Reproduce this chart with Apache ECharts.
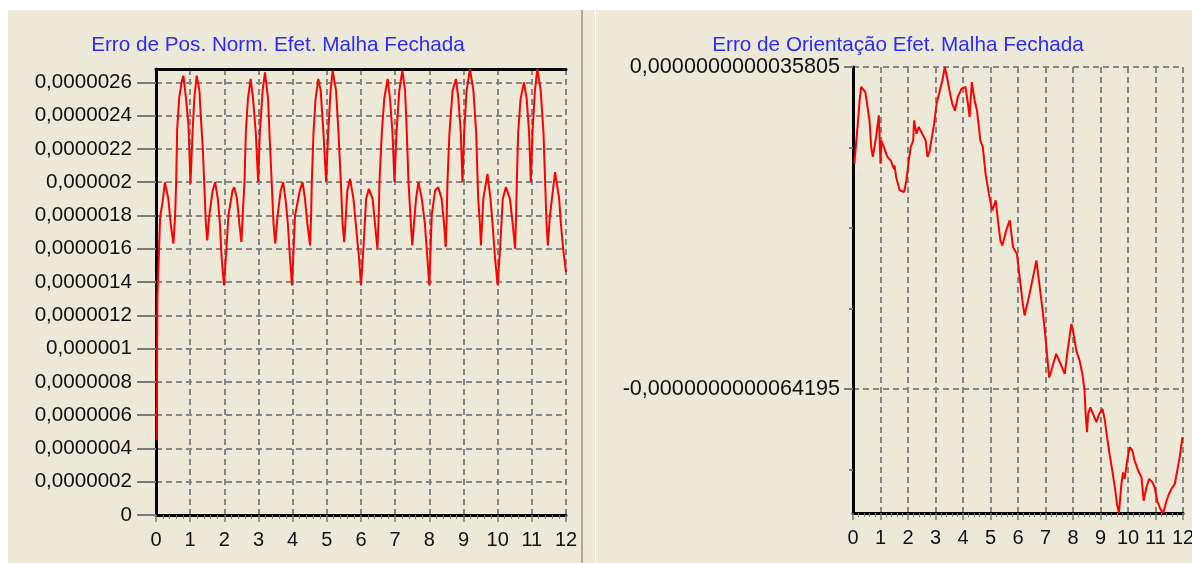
<!DOCTYPE html>
<html>
<head>
<meta charset="utf-8">
<script src="https://cdn.jsdelivr.net/npm/echarts@6/dist/echarts.min.js"></script>
<style>
  html, body { margin: 0; padding: 0; background: #ffffff; overflow: hidden; }
  #frame  { position: absolute; left: 8px; top: 10px; width: 1184px; height: 553px; background: #ECE9D8; }
  #split  { position: absolute; left: 581px; top: 10px; width: 2px; height: 553px; background: #ACA899; }
  #split2 { position: absolute; left: 595px; top: 10px; width: 1px; height: 553px; background: #ffffff; }
  #chart  { position: absolute; left: 0; top: 0; width: 1192px; height: 563px; }
</style>
</head>
<body>
<div id="frame"></div>
<div id="split"></div>
<div id="split2"></div>
<div id="chart"></div>
<script>
// Closed-loop position error (values in units of 1e-6)
const posX = [
  0.02, 0.04, 0.12, 0.20, 0.26, 0.30, 0.36, 0.43, 0.51, 0.56,
  0.59, 0.62, 0.68, 0.75, 0.80, 0.88, 0.95, 1.01, 1.07, 1.12,
  1.19, 1.27, 1.31, 1.37, 1.42, 1.46, 1.50, 1.56, 1.66, 1.73,
  1.81, 1.87, 1.92, 1.99,
  2.06, 2.12, 2.24, 2.29, 2.37, 2.44, 2.50, 2.55, 2.59, 2.63,
  2.69, 2.77, 2.84, 2.92, 2.99, 3.04, 3.12, 3.19, 3.28, 3.33,
  3.38, 3.44, 3.49, 3.56, 3.65, 3.72, 3.80, 3.86, 3.92, 3.98,
  4.07, 4.21, 4.29, 4.36, 4.43, 4.51, 4.54, 4.56, 4.61, 4.67,
  4.75, 4.82, 4.90, 4.98, 5.04, 5.11, 5.17, 5.27, 5.34, 5.41,
  5.46, 5.51, 5.60, 5.68, 5.78, 5.87, 5.94, 6.00,
  6.07, 6.15, 6.23, 6.34, 6.41, 6.48, 6.52, 6.54, 6.61, 6.68,
  6.78, 6.85, 6.92, 6.98, 7.04, 7.12, 7.21, 7.29, 7.34, 7.39,
  7.46, 7.50, 7.61, 7.68, 7.78, 7.87, 7.94, 8.00,
  8.07, 8.17, 8.26, 8.36, 8.43, 8.48, 8.51, 8.53, 8.59, 8.68,
  8.78, 8.85, 8.92, 8.97, 9.02, 9.09, 9.19, 9.29, 9.37, 9.43,
  9.48, 9.51, 9.58, 9.70, 9.79, 9.85, 9.92, 10.00,
  10.07, 10.15, 10.24, 10.36, 10.44, 10.51, 10.54, 10.56, 10.60, 10.67,
  10.77, 10.85, 10.92, 10.97, 11.02, 11.09, 11.16, 11.26, 11.34, 11.39,
  11.43, 11.47, 11.53, 11.68, 11.80, 11.85, 11.92, 12.00
];
const posErr = [
  0.45, 1.30, 1.79, 1.89, 2.00, 2.01, 1.90, 1.75, 1.63, 1.80,
  2.00, 2.32, 2.51, 2.60, 2.64, 2.50, 2.34, 1.99, 2.30, 2.50,
  2.64, 2.55, 2.40, 2.20, 1.95, 1.75, 1.65, 1.80, 1.95, 2.00,
  1.90, 1.75, 1.55, 1.38,
  1.60, 1.80, 1.95, 1.97, 1.90, 1.75, 1.64, 1.85, 2.00, 2.30,
  2.50, 2.62, 2.50, 2.30, 2.00, 2.30, 2.55, 2.66, 2.50, 2.25,
  2.03, 1.75, 1.63, 1.80, 1.95, 2.00, 1.88, 1.75, 1.55, 1.38,
  1.80, 1.95, 2.00, 1.90, 1.75, 1.62, 1.80, 2.00, 2.30, 2.50,
  2.62, 2.55, 2.30, 2.00, 2.30, 2.55, 2.67, 2.55, 2.30, 2.00,
  1.75, 1.64, 1.95, 2.02, 1.90, 1.70, 1.55, 1.38,
  1.60, 1.90, 1.96, 1.90, 1.75, 1.60, 1.80, 2.00, 2.30, 2.50,
  2.62, 2.50, 2.30, 2.00, 2.30, 2.55, 2.67, 2.55, 2.30, 2.00,
  1.75, 1.62, 1.90, 2.00, 1.90, 1.75, 1.55, 1.38,
  1.80, 1.95, 1.97, 1.90, 1.75, 1.61, 1.80, 2.00, 2.30, 2.55,
  2.62, 2.50, 2.30, 2.00, 2.30, 2.55, 2.68, 2.55, 2.30, 1.90,
  1.75, 1.62, 1.90, 2.05, 1.90, 1.75, 1.55, 1.38,
  1.60, 1.90, 1.97, 1.90, 1.75, 1.60, 1.80, 2.00, 2.30, 2.50,
  2.60, 2.50, 2.30, 2.00, 2.30, 2.55, 2.68, 2.55, 2.30, 2.00,
  1.75, 1.62, 1.80, 2.06, 1.90, 1.75, 1.59, 1.46
];
const POS_UNIT = 1e-6;
const POS_MAX = 2.68e-6;
const posYTicks = [0, 0.0000002, 0.0000004, 0.0000006, 0.0000008, 0.000001, 0.0000012,
  0.0000014, 0.0000016, 0.0000018, 0.000002, 0.0000022, 0.0000024, 0.0000026];

// Closed-loop orientation error (values in units of 1e-12)
const oriX = [
  0.05, 0.18, 0.24, 0.30, 0.45, 0.52, 0.60, 0.66, 0.72, 0.78,
  0.84, 0.94, 1.00, 1.03, 1.12, 1.25, 1.37, 1.49, 1.51, 1.57,
  1.70, 1.86, 1.94, 2.03, 2.10, 2.19, 2.22, 2.31, 2.39, 2.49,
  2.55, 2.64, 2.71, 2.79, 2.85, 2.95, 3.04, 3.16, 3.25, 3.34,
  3.44, 3.53, 3.61, 3.71, 3.81, 3.95, 4.09, 4.18, 4.24, 4.32,
  4.42, 4.51, 4.63, 4.72, 4.82, 4.94, 5.06, 5.19, 5.27, 5.36,
  5.43, 5.57, 5.70, 5.82, 5.96, 6.06, 6.16, 6.24, 6.42, 6.57,
  6.67, 6.79, 6.91, 7.00, 7.13, 7.21, 7.39, 7.70, 7.82, 7.94,
  8.02, 8.12, 8.24, 8.34, 8.42, 8.46, 8.51, 8.55, 8.63, 8.73,
  8.85, 8.95, 9.07, 9.15, 9.24, 9.33, 9.43, 9.52, 9.60, 9.67,
  9.76, 9.82, 9.88, 9.97, 10.06, 10.16, 10.24, 10.37, 10.49, 10.57,
  10.67, 10.77, 10.89, 10.97, 11.06, 11.18, 11.28, 11.40, 11.49, 11.58,
  11.70, 11.79, 11.88, 11.98
];
const oriErr = [
  0.58, 1.87, 2.55, 2.96, 2.80, 2.75, 1.92, 1.10, 0.79, 1.10,
  1.41, 2.08, 0.58, 1.30, 1.10, 0.79, 0.68, 0.42, 0.53, 0.16,
  -0.25, -0.30, 0.06, 0.68, 1.10, 1.30, 1.92, 1.51, 1.72, 1.56,
  1.61, 1.30, 0.79, 0.99, 1.30, 1.82, 2.44, 2.86, 3.17, 3.5805,
  3.17, 2.75, 2.44, 2.23, 2.65, 2.91, 2.96, 2.44, 2.03, 3.11,
  2.55, 2.23, 1.30, 1.10, 0.27, -0.35, -0.87, -0.56, -1.18, -1.80,
  -1.96, -1.49, -1.18, -2.01, -2.22, -2.94, -3.67, -4.13, -3.46, -2.84,
  -2.42, -3.25, -4.08, -4.80, -6.05, -5.84, -5.32, -5.94, -5.12, -4.39,
  -4.70, -5.22, -5.53, -5.94, -6.46, -7.19, -7.75, -7.19, -6.98, -7.19,
  -7.44, -7.19, -7.03, -7.34, -7.91, -8.43, -8.95, -9.46, -9.98, -10.26,
  -9.36, -9.00, -9.20, -8.63, -8.22, -8.32, -8.63, -8.95, -9.15, -9.88,
  -9.46, -9.20, -9.31, -9.46, -9.88, -10.14, -10.26, -9.88, -9.67, -9.51,
  -9.36, -8.95, -8.53, -7.91
];
const ORI_UNIT = 1e-12;
const ORI_MIN = -1.026e-11;
const ORI_MAX = 3.5805e-12;
const oriYLabels = [3.5805e-12, -6.4195e-12];
const oriYMinor = [1.0805e-12, -1.4195e-12, -3.9195e-12, -8.9195e-12];

const FONT = '"Liberation Sans", Arial, sans-serif';
const TITLE_COLOR = '#2b2bff';
const LABEL_COLOR = '#111111';
const GRID_COLOR = '#868686';
const TICK_COLOR = '#7a7a7a';
const LINE_COLOR = '#ff0000';
const dashed = { type: [6, 4], color: GRID_COLOR, width: 2 };

function commaDecimal(v, digits) {
  if (v === 0) return '0';
  return v.toFixed(digits).replace(/0+$/, '').replace(/\.$/, '').replace('.', ',');
}

function timeAxis(gridIndex) {
  return {
    gridIndex: gridIndex, type: 'value', min: 0, max: 12, interval: 1, position: 'bottom',
    axisLine: { show: true, onZero: false, lineStyle: { color: '#000000', width: 3 } },
    axisTick: { show: true, inside: false, length: 7, lineStyle: { color: TICK_COLOR, width: 1.5 } },
    minorTick: { show: true, splitNumber: 5, length: 4, lineStyle: { color: TICK_COLOR, width: 1 } },
    axisLabel: { show: true, margin: 15, fontSize: 20, fontFamily: FONT, color: LABEL_COLOR,
                 hideOverlap: false, showMinLabel: true, showMaxLabel: true },
    splitLine: { show: true, lineStyle: dashed },
    minorSplitLine: { show: false }
  };
}

function titleText(x, text) {
  return { type: 'text', x: x, y: 45, silent: true,
    style: { text: text, fill: TITLE_COLOR, fontSize: 20.7, fontFamily: FONT,
             align: 'center', verticalAlign: 'middle', textAlign: 'center', textVerticalAlign: 'middle' } };
}

const chart = echarts.init(document.getElementById('chart'), null, { renderer: 'canvas' });

chart.setOption({
  animation: false,
  backgroundColor: 'transparent',
  graphic: [
    titleText(278, 'Erro de Pos. Norm. Efet. Malha Fechada'),
    titleText(898, 'Erro de Orientação Efet. Malha Fechada')
  ],
  grid: [
    { left: 156, top: 69, width: 410, height: 446, containLabel: false, outerBoundsMode: 'none' },
    { left: 853, top: 67, width: 330, height: 446, containLabel: false, outerBoundsMode: 'none' }
  ],
  xAxis: [
    timeAxis(0),
    { gridIndex: 0, type: 'value', min: 0, max: 12, position: 'top',
      axisLine: { show: true, onZero: false, lineStyle: { color: '#000000', width: 3 } },
      axisTick: { show: false }, axisLabel: { show: false }, splitLine: { show: false } },
    timeAxis(1)
  ],
  yAxis: [
    { gridIndex: 0, type: 'value', min: 0, max: POS_MAX, interval: 0.0000002, position: 'left',
      axisLine: { show: true, onZero: false, lineStyle: { color: '#000000', width: 3 } },
      axisTick: { show: true, length: 19, customValues: posYTicks, lineStyle: { color: TICK_COLOR, width: 2 } },
      axisLabel: { show: true, customValues: posYTicks, margin: 24, fontSize: 20.6, fontFamily: FONT,
                   color: LABEL_COLOR, hideOverlap: false, formatter: v => commaDecimal(v, 7) },
      splitLine: { show: true, lineStyle: dashed } },
    { gridIndex: 1, type: 'value', min: ORI_MIN, max: ORI_MAX, position: 'left',
      axisLine: { show: true, onZero: false, lineStyle: { color: '#000000', width: 3 } },
      axisTick: { show: true, length: 9, customValues: oriYLabels, lineStyle: { color: TICK_COLOR, width: 2 } },
      axisLabel: { show: true, customValues: oriYLabels, margin: 13, fontSize: 21.6, fontFamily: FONT,
                   color: LABEL_COLOR, hideOverlap: false,
                   formatter: v => v.toFixed(16).replace('.', ',') },
      splitLine: { show: true, lineStyle: dashed } },
    { gridIndex: 1, type: 'value', min: ORI_MIN, max: ORI_MAX, position: 'left', offset: 0,
      axisLine: { show: false },
      axisTick: { show: true, length: 4, customValues: oriYMinor, lineStyle: { color: TICK_COLOR, width: 2 } },
      axisLabel: { show: false }, splitLine: { show: false } }
  ],
  series: [
    { type: 'line', name: 'Erro de Pos.', xAxisIndex: 0, yAxisIndex: 0,
      data: posX.map((x, i) => [x, posErr[i] * POS_UNIT]),
      showSymbol: false, symbol: 'none', smooth: false, silent: true,
      lineStyle: { color: LINE_COLOR, width: 2 } },
    { type: 'line', name: 'Erro de Orientação', xAxisIndex: 2, yAxisIndex: 1,
      data: oriX.map((x, i) => [x, oriErr[i] * ORI_UNIT]),
      showSymbol: false, symbol: 'none', smooth: false, silent: true,
      lineStyle: { color: LINE_COLOR, width: 2 } }
  ]
});
</script>
</body>
</html>
